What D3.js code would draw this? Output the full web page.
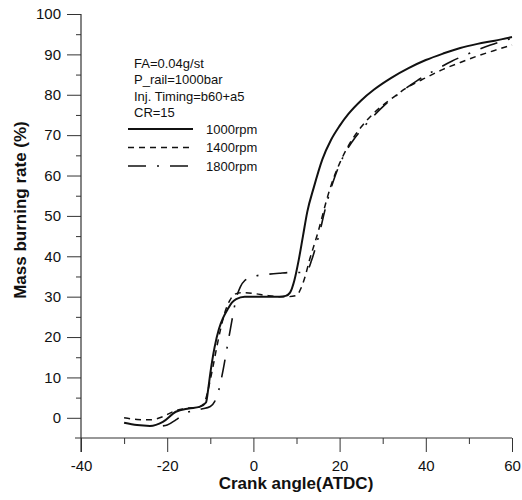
<!DOCTYPE html>
<html>
<head>
<meta charset="utf-8">
<script src="https://cdn.jsdelivr.net/npm/d3@7"></script>
<style>
  html, body { margin: 0; padding: 0; background: #fff; }
  svg { display: block; font-family: Arial, "Liberation Sans", sans-serif; }
</style>
</head>
<body>
<svg id="chart" width="522" height="500"></svg>
<script>
// Mass burning rate vs crank angle for three engine speeds
const angle1000 = [-30,-27,-24,-21,-18,-15,-12.5,-11,-10.5,-10,-9,-8,-7,-6,-5,-4,-2,0,3,6,7.5,8.5,9.5,10.5,11.5,12.5,14,16,18,20,22,25,28,32,36,40,44,48,52,56,60];
const mass1000  = [-1.2,-1.8,-2.0,-1.0,1.5,2.3,2.7,3.8,7,11,17.5,22,24.8,26.8,28.5,29.4,30,30,30,30,30.2,31,34,39,45,51,57,64,68.8,72.3,75.2,78.6,81.3,84.2,86.6,88.6,90.2,91.6,92.6,93.4,94.3];

const angle1400 = [-30,-27,-24,-21,-18,-15,-13,-11.5,-10.5,-9.5,-8.5,-7.5,-6.5,-5.5,-4.5,-3,0,3,6,8,10,11,12,13,14,15,16,17,18,20,22,25,28,32,36,40,44,48,52,56,60];
const mass1400  = [0,-0.4,-0.5,0.3,1.8,2.4,2.6,3.5,7,12,17.5,22.5,26.5,29,30.5,31,30.8,30.3,30,30,30.3,32,35,39,42.5,46,50,54,57.5,63,67.3,72,75.5,79,82,84.2,86.3,88,89.6,91,92.3];

const angle1800 = [-21,-20,-18,-16,-14,-12,-10,-9,-8,-7,-6,-5,-4,-3,-2,0,3,6,9,11,12.5,13.5,14.5,15.5,16.5,17.5,19,21,23,26,30,34,38,42,46,50,55,60];
const mass1800  = [-2,-1.8,-0.5,1.0,1.8,2.2,2.8,4,7,12,18,24,29.5,32.5,34,35,35.5,35.8,36,36,36.5,39,42.5,46.5,51,55,60,65,68.5,72.5,77,80.5,83.5,86,88.3,90.2,92.3,94];

const xTicks = [-40,-20,0,20,40,60];
const xMinorTicks = [-30,-10,10,30,50];
const yTicks = [0,10,20,30,40,50,60,70,80,90,100];
const yMinorTicks = [5,15,25,35,45,55,65,75,85,95];

const infoLines = ["FA=0.04g/st", "P_rail=1000bar", "Inj. Timing=b60+a5", "CR=15"];
const seriesNames = ["1000rpm", "1400rpm", "1800rpm"];

const series = [
  { name: seriesNames[0], xs: angle1000, ys: mass1000, dash: null, width: 2 },
  { name: seriesNames[1], xs: angle1400, ys: mass1400, dash: "6,5", width: 1.5 },
  { name: seriesNames[2], xs: angle1800, ys: mass1800, dash: "18,11,2,11", width: 1.6 }
];

const svg = d3.select("#chart");
const x = d3.scaleLinear().domain([-40, 60]).range([81, 512]);
const y = d3.scaleLinear().domain([-5, 100]).range([438, 14]);

const ink = "#111";
const plain = d => String(d);   // hyphen-minus, as printed on the axes

// axes
const yAxis = svg.append("g").attr("transform", `translate(${x(-40)},0)`);
yAxis.call(d3.axisLeft(y).tickValues(yTicks).tickSize(14).tickPadding(6).tickFormat(plain));
yAxis.append("g").call(d3.axisLeft(y).tickValues(yMinorTicks).tickSize(5).tickFormat(""));
yAxis.selectAll(".domain").remove();

const xAxis = svg.append("g").attr("transform", `translate(0,${y(-5)})`);
xAxis.call(d3.axisBottom(x).tickValues(xTicks).tickSize(14).tickPadding(8).tickFormat(plain));
xAxis.append("g").call(d3.axisBottom(x).tickValues(xMinorTicks).tickSize(6).tickFormat(""));
xAxis.selectAll(".domain").remove();

svg.selectAll(".tick line").attr("stroke", "#333").attr("stroke-width", 1);
svg.selectAll(".tick text").attr("fill", ink).style("font-size", "15px").style("font-family", "Arial, 'Liberation Sans', sans-serif");

// axis lines
svg.append("line").attr("x1", x(-40)).attr("x2", x(-40)).attr("y1", y(100)).attr("y2", y(-5) + 14)
  .attr("stroke", "#333").attr("stroke-width", 1.2);
svg.append("line").attr("x1", x(-40) - 6).attr("x2", x(60)).attr("y1", y(-5)).attr("y2", y(-5))
  .attr("stroke", "#333").attr("stroke-width", 1.2);

// axis titles
svg.append("text").attr("x", 296).attr("y", 489).attr("text-anchor", "middle")
  .style("font-size", "17px").style("font-weight", "bold").attr("fill", ink).text("Crank angle(ATDC)");
svg.append("text").attr("transform", "translate(26,210) rotate(-90)").attr("text-anchor", "middle")
  .style("font-size", "17px").style("font-weight", "bold").attr("fill", ink).text("Mass burning rate (%)");

// curves
const line = d3.line().x(d => x(d[0])).y(d => y(d[1])).curve(d3.curveMonotoneX);
series.forEach(s => {
  const pts = s.xs.map((v, i) => [v, s.ys[i]]);
  svg.append("path").datum(pts).attr("d", line).attr("fill", "none")
    .attr("stroke", ink).attr("stroke-width", s.width)
    .attr("stroke-dasharray", s.dash).attr("stroke-linejoin", "round");
});

// annotation block and legend
const info = svg.append("g").style("font-size", "13px").attr("fill", ink);
infoLines.forEach((t, i) => {
  info.append("text").attr("x", 134).attr("y", 68 + i * 16.3).text(t);
});
series.forEach((s, i) => {
  const yy = 129 + i * 18.5;
  svg.append("line").attr("x1", 128).attr("x2", 193).attr("y1", yy).attr("y2", yy)
    .attr("stroke", ink).attr("stroke-width", s.width).attr("stroke-dasharray", s.dash);
  svg.append("text").attr("x", 206).attr("y", yy + 4.5).style("font-size", "13px").attr("fill", ink).text(s.name);
});
</script>
</body>
</html>
